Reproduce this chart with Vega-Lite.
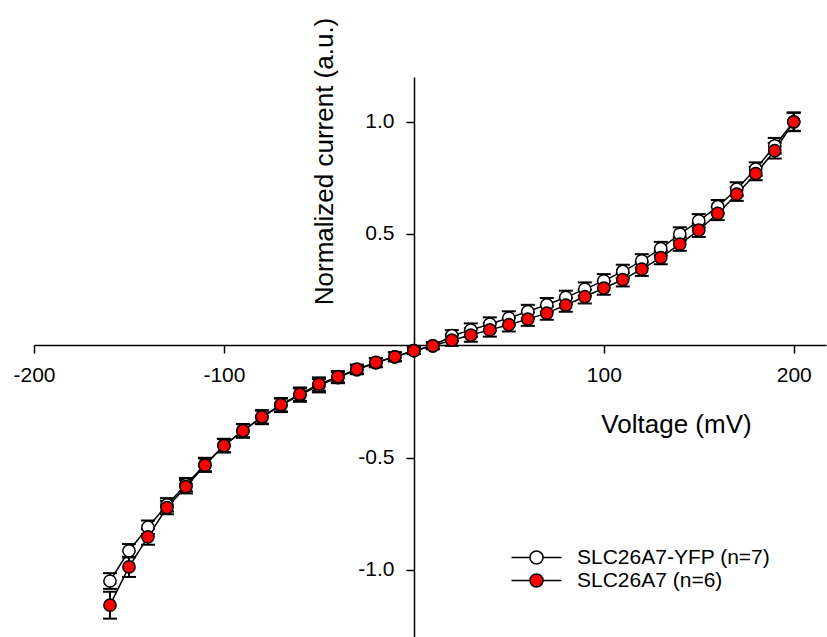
{
  "$schema": "https://vega.github.io/schema/vega-lite/v6.json",
  "width": 792,
  "height": 560,
  "autosize": {"type": "none"},
  "padding": {"left": 34, "top": 77, "right": 1, "bottom": 0},
  "background": "white",
  "config": {
    "view": {"stroke": null},
    "font": "Liberation Sans"
  },
  "data": {
    "values": [
      {"V": -160, "s": "SLC26A7-YFP (n=7)", "m": -1.05, "e": 0.035},
      {"V": -150, "s": "SLC26A7-YFP (n=7)", "m": -0.915, "e": 0.03},
      {"V": -140, "s": "SLC26A7-YFP (n=7)", "m": -0.81, "e": 0.03},
      {"V": -130, "s": "SLC26A7-YFP (n=7)", "m": -0.71, "e": 0.03},
      {"V": -120, "s": "SLC26A7-YFP (n=7)", "m": -0.62, "e": 0.03},
      {"V": -110, "s": "SLC26A7-YFP (n=7)", "m": -0.53, "e": 0.03},
      {"V": -100, "s": "SLC26A7-YFP (n=7)", "m": -0.445, "e": 0.03},
      {"V": -90, "s": "SLC26A7-YFP (n=7)", "m": -0.38, "e": 0.03},
      {"V": -80, "s": "SLC26A7-YFP (n=7)", "m": -0.32, "e": 0.03},
      {"V": -70, "s": "SLC26A7-YFP (n=7)", "m": -0.266, "e": 0.03},
      {"V": -60, "s": "SLC26A7-YFP (n=7)", "m": -0.22, "e": 0.03},
      {"V": -50, "s": "SLC26A7-YFP (n=7)", "m": -0.178, "e": 0.03},
      {"V": -40, "s": "SLC26A7-YFP (n=7)", "m": -0.142, "e": 0.025},
      {"V": -30, "s": "SLC26A7-YFP (n=7)", "m": -0.107, "e": 0.02},
      {"V": -20, "s": "SLC26A7-YFP (n=7)", "m": -0.076, "e": 0.02},
      {"V": -10, "s": "SLC26A7-YFP (n=7)", "m": -0.049, "e": 0.02},
      {"V": 0, "s": "SLC26A7-YFP (n=7)", "m": -0.022, "e": 0.015},
      {"V": 10, "s": "SLC26A7-YFP (n=7)", "m": 0.0, "e": 0.015},
      {"V": 20, "s": "SLC26A7-YFP (n=7)", "m": 0.045, "e": 0.025},
      {"V": 30, "s": "SLC26A7-YFP (n=7)", "m": 0.07, "e": 0.03},
      {"V": 40, "s": "SLC26A7-YFP (n=7)", "m": 0.097, "e": 0.03},
      {"V": 50, "s": "SLC26A7-YFP (n=7)", "m": 0.124, "e": 0.03},
      {"V": 60, "s": "SLC26A7-YFP (n=7)", "m": 0.153, "e": 0.03},
      {"V": 70, "s": "SLC26A7-YFP (n=7)", "m": 0.183, "e": 0.03},
      {"V": 80, "s": "SLC26A7-YFP (n=7)", "m": 0.216, "e": 0.03},
      {"V": 90, "s": "SLC26A7-YFP (n=7)", "m": 0.253, "e": 0.03},
      {"V": 100, "s": "SLC26A7-YFP (n=7)", "m": 0.29, "e": 0.03},
      {"V": 110, "s": "SLC26A7-YFP (n=7)", "m": 0.332, "e": 0.03},
      {"V": 120, "s": "SLC26A7-YFP (n=7)", "m": 0.379, "e": 0.03},
      {"V": 130, "s": "SLC26A7-YFP (n=7)", "m": 0.434, "e": 0.03},
      {"V": 140, "s": "SLC26A7-YFP (n=7)", "m": 0.499, "e": 0.03},
      {"V": 150, "s": "SLC26A7-YFP (n=7)", "m": 0.558, "e": 0.03},
      {"V": 160, "s": "SLC26A7-YFP (n=7)", "m": 0.621, "e": 0.03},
      {"V": 170, "s": "SLC26A7-YFP (n=7)", "m": 0.7, "e": 0.03},
      {"V": 180, "s": "SLC26A7-YFP (n=7)", "m": 0.789, "e": 0.03},
      {"V": 190, "s": "SLC26A7-YFP (n=7)", "m": 0.893, "e": 0.035},
      {"V": 200, "s": "SLC26A7-YFP (n=7)", "m": 1.0, "e": 0.04},
      {"V": -160, "s": "SLC26A7 (n=6)", "m": -1.158, "e": 0.06},
      {"V": -150, "s": "SLC26A7 (n=6)", "m": -0.987, "e": 0.045},
      {"V": -140, "s": "SLC26A7 (n=6)", "m": -0.853, "e": 0.035},
      {"V": -130, "s": "SLC26A7 (n=6)", "m": -0.722, "e": 0.03},
      {"V": -120, "s": "SLC26A7 (n=6)", "m": -0.629, "e": 0.03},
      {"V": -110, "s": "SLC26A7 (n=6)", "m": -0.533, "e": 0.03},
      {"V": -100, "s": "SLC26A7 (n=6)", "m": -0.446, "e": 0.03},
      {"V": -90, "s": "SLC26A7 (n=6)", "m": -0.379, "e": 0.03},
      {"V": -80, "s": "SLC26A7 (n=6)", "m": -0.317, "e": 0.03},
      {"V": -70, "s": "SLC26A7 (n=6)", "m": -0.263, "e": 0.03},
      {"V": -60, "s": "SLC26A7 (n=6)", "m": -0.216, "e": 0.03},
      {"V": -50, "s": "SLC26A7 (n=6)", "m": -0.171, "e": 0.03},
      {"V": -40, "s": "SLC26A7 (n=6)", "m": -0.138, "e": 0.025},
      {"V": -30, "s": "SLC26A7 (n=6)", "m": -0.104, "e": 0.02},
      {"V": -20, "s": "SLC26A7 (n=6)", "m": -0.074, "e": 0.02},
      {"V": -10, "s": "SLC26A7 (n=6)", "m": -0.049, "e": 0.02},
      {"V": 0, "s": "SLC26A7 (n=6)", "m": -0.022, "e": 0.015},
      {"V": 10, "s": "SLC26A7 (n=6)", "m": 0.0, "e": 0.015},
      {"V": 20, "s": "SLC26A7 (n=6)", "m": 0.025, "e": 0.025},
      {"V": 30, "s": "SLC26A7 (n=6)", "m": 0.048, "e": 0.03},
      {"V": 40, "s": "SLC26A7 (n=6)", "m": 0.071, "e": 0.03},
      {"V": 50, "s": "SLC26A7 (n=6)", "m": 0.094, "e": 0.03},
      {"V": 60, "s": "SLC26A7 (n=6)", "m": 0.119, "e": 0.03},
      {"V": 70, "s": "SLC26A7 (n=6)", "m": 0.146, "e": 0.03},
      {"V": 80, "s": "SLC26A7 (n=6)", "m": 0.182, "e": 0.03},
      {"V": 90, "s": "SLC26A7 (n=6)", "m": 0.219, "e": 0.03},
      {"V": 100, "s": "SLC26A7 (n=6)", "m": 0.258, "e": 0.03},
      {"V": 110, "s": "SLC26A7 (n=6)", "m": 0.295, "e": 0.03},
      {"V": 120, "s": "SLC26A7 (n=6)", "m": 0.342, "e": 0.03},
      {"V": 130, "s": "SLC26A7 (n=6)", "m": 0.394, "e": 0.03},
      {"V": 140, "s": "SLC26A7 (n=6)", "m": 0.454, "e": 0.03},
      {"V": 150, "s": "SLC26A7 (n=6)", "m": 0.516, "e": 0.03},
      {"V": 160, "s": "SLC26A7 (n=6)", "m": 0.591, "e": 0.03},
      {"V": 170, "s": "SLC26A7 (n=6)", "m": 0.677, "e": 0.03},
      {"V": 180, "s": "SLC26A7 (n=6)", "m": 0.769, "e": 0.03},
      {"V": 190, "s": "SLC26A7 (n=6)", "m": 0.871, "e": 0.035},
      {"V": 200, "s": "SLC26A7 (n=6)", "m": 1.0, "e": 0.042}
    ]
  },
  "encoding": {
    "x": {
      "field": "V",
      "type": "quantitative",
      "scale": {"domain": [-200, 217], "nice": false, "zero": false},
      "axis": {
        "orient": "bottom",
        "offset": -292,
        "values": [-200, -100, 100, 200],
        "labelExpr": "datum.value < 0 ? '-' + format(-datum.value, 'd') : format(datum.value, 'd')",
        "grid": false,
        "domainColor": "black",
        "domainWidth": 1.5,
        "tickColor": "black",
        "tickWidth": 1.5,
        "tickSize": 8,
        "labelFont": "Liberation Sans",
        "labelFontSize": 21,
        "labelColor": "black",
        "labelPadding": 11,
        "labelFlush": false,
        "labelOverlap": false,
        "title": "Voltage (mV)",
        "titleFont": "Liberation Sans",
        "titleFontSize": 26,
        "titleFontWeight": "normal",
        "titleColor": "black",
        "titleX": 642,
        "titleY": 87,
        "titleAlign": "center",
        "titleBaseline": "alphabetic"
      }
    },
    "y": {
      "field": "m",
      "type": "quantitative",
      "scale": {"domain": [-1.3, 1.2], "nice": false, "zero": false},
      "axis": {
        "orient": "left",
        "offset": -380,
        "values": [-1, -0.5, 0.5, 1],
        "labelExpr": "datum.value < 0 ? '-' + format(-datum.value, '.1f') : format(datum.value, '.1f')",
        "grid": false,
        "domainColor": "black",
        "domainWidth": 1.5,
        "tickColor": "black",
        "tickWidth": 1.5,
        "tickSize": 8,
        "labelFont": "Liberation Sans",
        "labelFontSize": 21,
        "labelColor": "black",
        "labelPadding": 12,
        "labelFlush": false,
        "labelOverlap": false,
        "title": "Normalized current (a.u.)",
        "titleFont": "Liberation Sans",
        "titleFontSize": 26,
        "titleFontWeight": "normal",
        "titleColor": "black",
        "titleAngle": -90,
        "titleX": -82,
        "titleY": 84,
        "titleAlign": "center",
        "titleBaseline": "alphabetic"
      }
    }
  },
  "layer": [
    {
      "mark": {"type": "line", "color": "black", "strokeWidth": 1.5},
      "encoding": {"detail": {"field": "s"}}
    },
    {
      "mark": {
        "type": "errorbar",
        "ticks": {"size": 14, "color": "black", "thickness": 2, "opacity": 1},
        "rule": {"color": "black", "strokeWidth": 2, "opacity": 1},
        "color": "black",
        "opacity": 1,
        "thickness": 2
      },
      "encoding": {
        "yError": {"field": "e"},
        "detail": {"field": "s"}
      }
    },
    {
      "mark": {"type": "point", "filled": true, "stroke": "black", "strokeWidth": 1.5, "size": 150, "opacity": 1, "fillOpacity": 1},
      "encoding": {
        "fill": {
          "field": "s",
          "type": "nominal",
          "sort": null,
          "scale": {"domain": ["SLC26A7-YFP (n=7)", "SLC26A7 (n=6)"], "range": ["white", "#ff0000"]},
          "legend": {
            "orient": "none",
            "legendX": 492,
            "legendY": 470,
            "title": null,
            "padding": 0,
            "symbolType": "M-3.85,0L-1,0M1,0L3.85,0M1,0A1,1,0,1,1,-1,0A1,1,0,1,1,1,0Z",
            "symbolSize": 169,
            "symbolStrokeColor": "black",
            "symbolStrokeWidth": 1.5,
            "symbolOpacity": 1,
            "labelFont": "Liberation Sans",
            "labelFontSize": 21,
            "labelColor": "black",
            "labelLimit": 300,
            "labelOffset": 30,
            "rowPadding": 1
          }
        }
      }
    }
  ]
}
